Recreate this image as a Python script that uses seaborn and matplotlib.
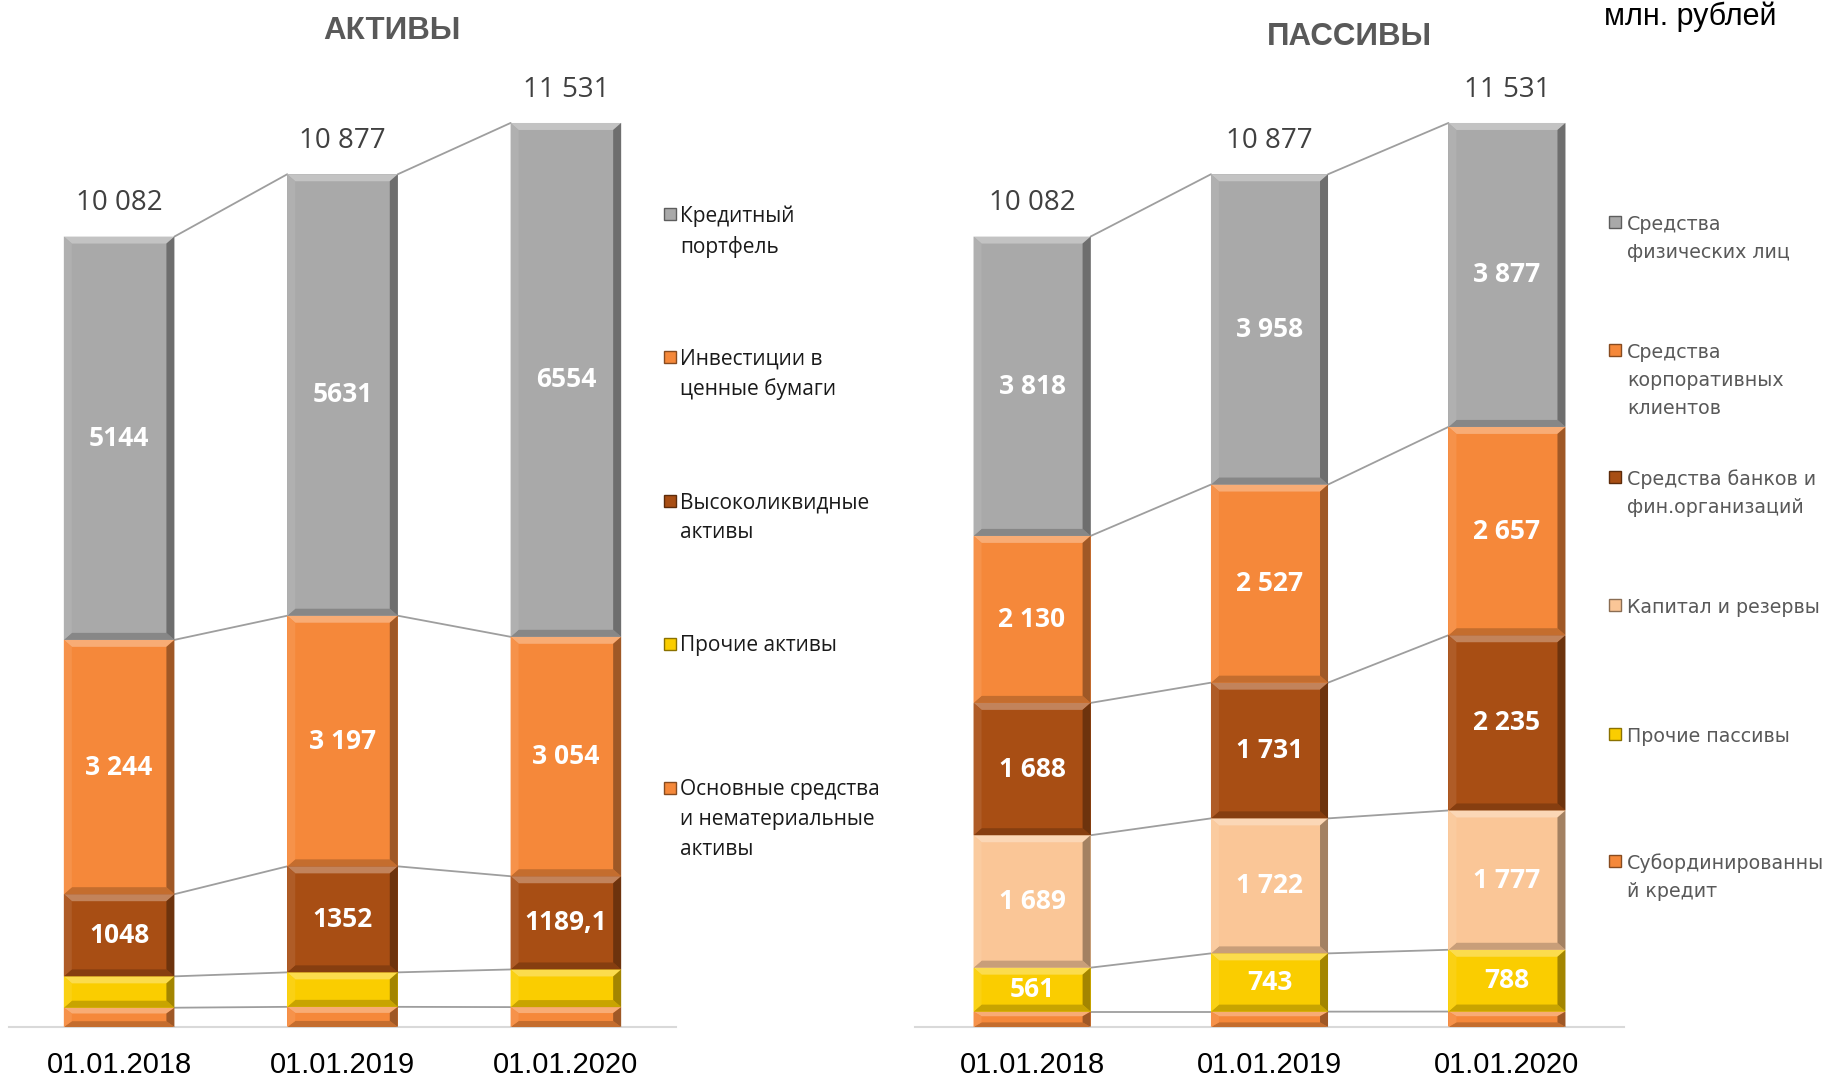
import numpy as np
import matplotlib
matplotlib.use("Agg")
import matplotlib.pyplot as plt
import matplotlib.colors as mcolors
from matplotlib.patches import Polygon, Rectangle
import seaborn as sns

W, H = 1835, 1077

dates = ["01.01.2018", "01.01.2019", "01.01.2020"]

# АКТИВЫ, снизу вверх
fixed_assets = [246, 257, 253.9]
other_assets = [400, 440, 480]
liquid_assets = [1048, 1352, 1189.1]
securities = [3244, 3197, 3054]
loans = [5144, 5631, 6554]
asset_totals = [10082, 10877, 11531]

asset_legend = ["Основные средства\nи нематериальные\nактивы", "Прочие активы",
                "Высоколиквидные\nактивы", "Инвестиции в\nценные бумаги",
                "Кредитный\nпортфель"]
asset_labels = [None, None,
                ["1048", "1352", "1189,1"],
                ["3 244", "3 197", "3 054"],
                ["5144", "5631", "6554"]]

# ПАССИВЫ, снизу вверх
sub_debt = [196, 196, 197]
other_liab = [561, 743, 788]
capital = [1689, 1722, 1777]
banks = [1688, 1731, 2235]
corporate = [2130, 2527, 2657]
retail = [3818, 3958, 3877]
liab_totals = [10082, 10877, 11531]

liab_legend = ["Субординированны\nй кредит", "Прочие пассивы", "Капитал и резервы",
               "Средства банков и\nфин.организаций",
               "Средства\nкорпоративных\nклиентов", "Средства\nфизических лиц"]

ORANGE = "#F5883A"
BROWN = "#A84E14"
YELLOW = "#FACD00"
GRAY = "#A9A9A9"
PEACH = "#FAC697"

asset_colors = [ORANGE, YELLOW, BROWN, ORANGE, GRAY]
liab_colors = [ORANGE, YELLOW, PEACH, BROWN, ORANGE, GRAY]

sns.set_style("white")
plt.rcParams["font.family"] = ["Open Sans", "DejaVu Sans"]

fig = plt.figure(figsize=(W / 100, H / 100), dpi=100)


def fmt(v):
    return f"{v:,.0f}".replace(",", " ")


def shade(col, f):
    c = np.array(mcolors.to_rgb(col))
    if f > 0:
        c = c + (1 - c) * f
    else:
        c = c * (1 + f)
    return tuple(np.clip(c, 0, 1))


def bevel(ax, p, col, bx, by):
    x0, y0 = p.get_x(), p.get_y()
    x1, y1 = x0 + p.get_width(), y0 + p.get_height()
    by = min(by, p.get_height() * 0.3)
    faces = [
        ([(x0, y1), (x1, y1), (x1 - bx, y1 - by), (x0 + bx, y1 - by)], shade(col, 0.3)),
        ([(x0, y0), (x1, y0), (x1 - bx, y0 + by), (x0 + bx, y0 + by)], shade(col, -0.2)),
        ([(x0, y0), (x0 + bx, y0 + by), (x0 + bx, y1 - by), (x0, y1)], shade(col, 0.08)),
        ([(x1, y0), (x1 - bx, y0 + by), (x1 - bx, y1 - by), (x1, y1)], shade(col, -0.35)),
    ]
    for pts, c in faces:
        ax.add_patch(Polygon(pts, closed=True, facecolor=c, edgecolor="none", zorder=3))


def draw_stack(ax, series, colors, labels, totals, width):
    bottom = np.zeros(len(dates))
    groups = []
    for vals, col in zip(series, colors):
        n0 = len(ax.patches)
        sns.barplot(x=dates, y=vals, bottom=bottom, color=col, width=width,
                    saturation=1, errorbar=None, ax=ax, linewidth=0, zorder=2)
        groups.append(ax.patches[n0:n0 + len(dates)])
        bottom = bottom + np.array(vals, dtype=float)

    ax.set_ylim(0, 12500)
    ax.set_xlim(-0.493, 2.493)
    pos = ax.get_position()
    ppx = pos.width * W / 2.986
    ppy = pos.height * H / 12500
    bx, by = 8 / ppx, 7 / ppy

    for bars, col, lbl in zip(groups, colors, labels):
        for i, p in enumerate(bars):
            bevel(ax, p, col, bx, by)
            if lbl is not None:
                ax.text(p.get_x() + p.get_width() / 2, p.get_y() + p.get_height() / 2,
                        lbl[i], ha="center", va="center", color="white",
                        fontsize=19, fontweight="bold", zorder=5)
        # соединительные линии
        for a, b in zip(bars[:-1], bars[1:]):
            ax.plot([a.get_x() + a.get_width(), b.get_x()],
                    [a.get_y() + a.get_height(), b.get_y() + b.get_height()],
                    color="#9E9E9E", lw=1.3, zorder=1)

    for p, t in zip(groups[-1], totals):
        ax.annotate(fmt(t), (p.get_x() + p.get_width() / 2, p.get_y() + p.get_height()),
                    xytext=(0, 19), textcoords="offset points", ha="center",
                    va="baseline", fontsize=20, color="#404040")

    ax.set_xlabel("")
    ax.set_ylabel("")
    ax.set_yticks([])
    for s in ["left", "right", "top"]:
        ax.spines[s].set_visible(False)
    ax.spines["bottom"].set_color("#D9D9D9")
    ax.spines["bottom"].set_linewidth(1.5)
    ax.tick_params(axis="x", length=0, pad=17)
    for t in ax.get_xticklabels():
        t.set_fontfamily("Liberation Sans")
        t.set_fontsize(21)
        t.set_color("black")


ax_h = 980 / H
ax_b = (H - 1027) / H
ax1 = fig.add_axes([9 / W, ax_b, 667 / W, ax_h])
ax2 = fig.add_axes([915 / W, ax_b, 709 / W, ax_h])

draw_stack(ax1, [fixed_assets, other_assets, liquid_assets, securities, loans],
           asset_colors, asset_labels, asset_totals, 0.495)

liab_series = [sub_debt, other_liab, capital, banks, corporate, retail]
liab_labels = [None] + [[fmt(v) for v in s] for s in liab_series[1:]]
draw_stack(ax2, liab_series, liab_colors, liab_labels, liab_totals, 0.493)

# заголовки
fig.text(392 / W, 1 - 31 / H, "АКТИВЫ", ha="center", va="center", fontsize=22.5,
         fontweight="bold", color="#595959", family="Liberation Sans")
fig.text(1349 / W, 1 - 37 / H, "ПАССИВЫ", ha="center", va="center", fontsize=22.5,
         fontweight="bold", color="#595959", family="Liberation Sans")
fig.text(1690 / W, 1 - 25 / H, "млн. рублей", ha="center", va="baseline",
         fontsize=22, color="black", family="Liberation Sans")


def legend(names, colors, ys, mx, tx, fs, tcol, fam, ls):
    asc = 0.76 * fs * 100 / 72
    for name, col, y in zip(names, colors, ys):
        sq = 12
        fig.patches.append(Rectangle((mx / W, 1 - (y - 7 + sq / 2) / H), sq / W, sq / H,
                                     transform=fig.transFigure, facecolor=col,
                                     edgecolor=shade(col, -0.45), lw=1))
        fig.text(tx / W, 1 - (y - asc) / H, name, ha="left", va="top", fontsize=fs,
                 color=tcol, family=fam, linespacing=ls)


legend(asset_legend[::-1], asset_colors[::-1], [221, 364, 508, 651, 795],
       664, 680, 15, "#1A1A1A", "Open Sans", 1.55)
legend(liab_legend[::-1], liab_colors[::-1], [229, 357, 484, 612, 741, 868],
       1609, 1627, 13.7, "#595959", "DejaVu Sans", 1.6)

fig.savefig("out.png", dpi=100)
